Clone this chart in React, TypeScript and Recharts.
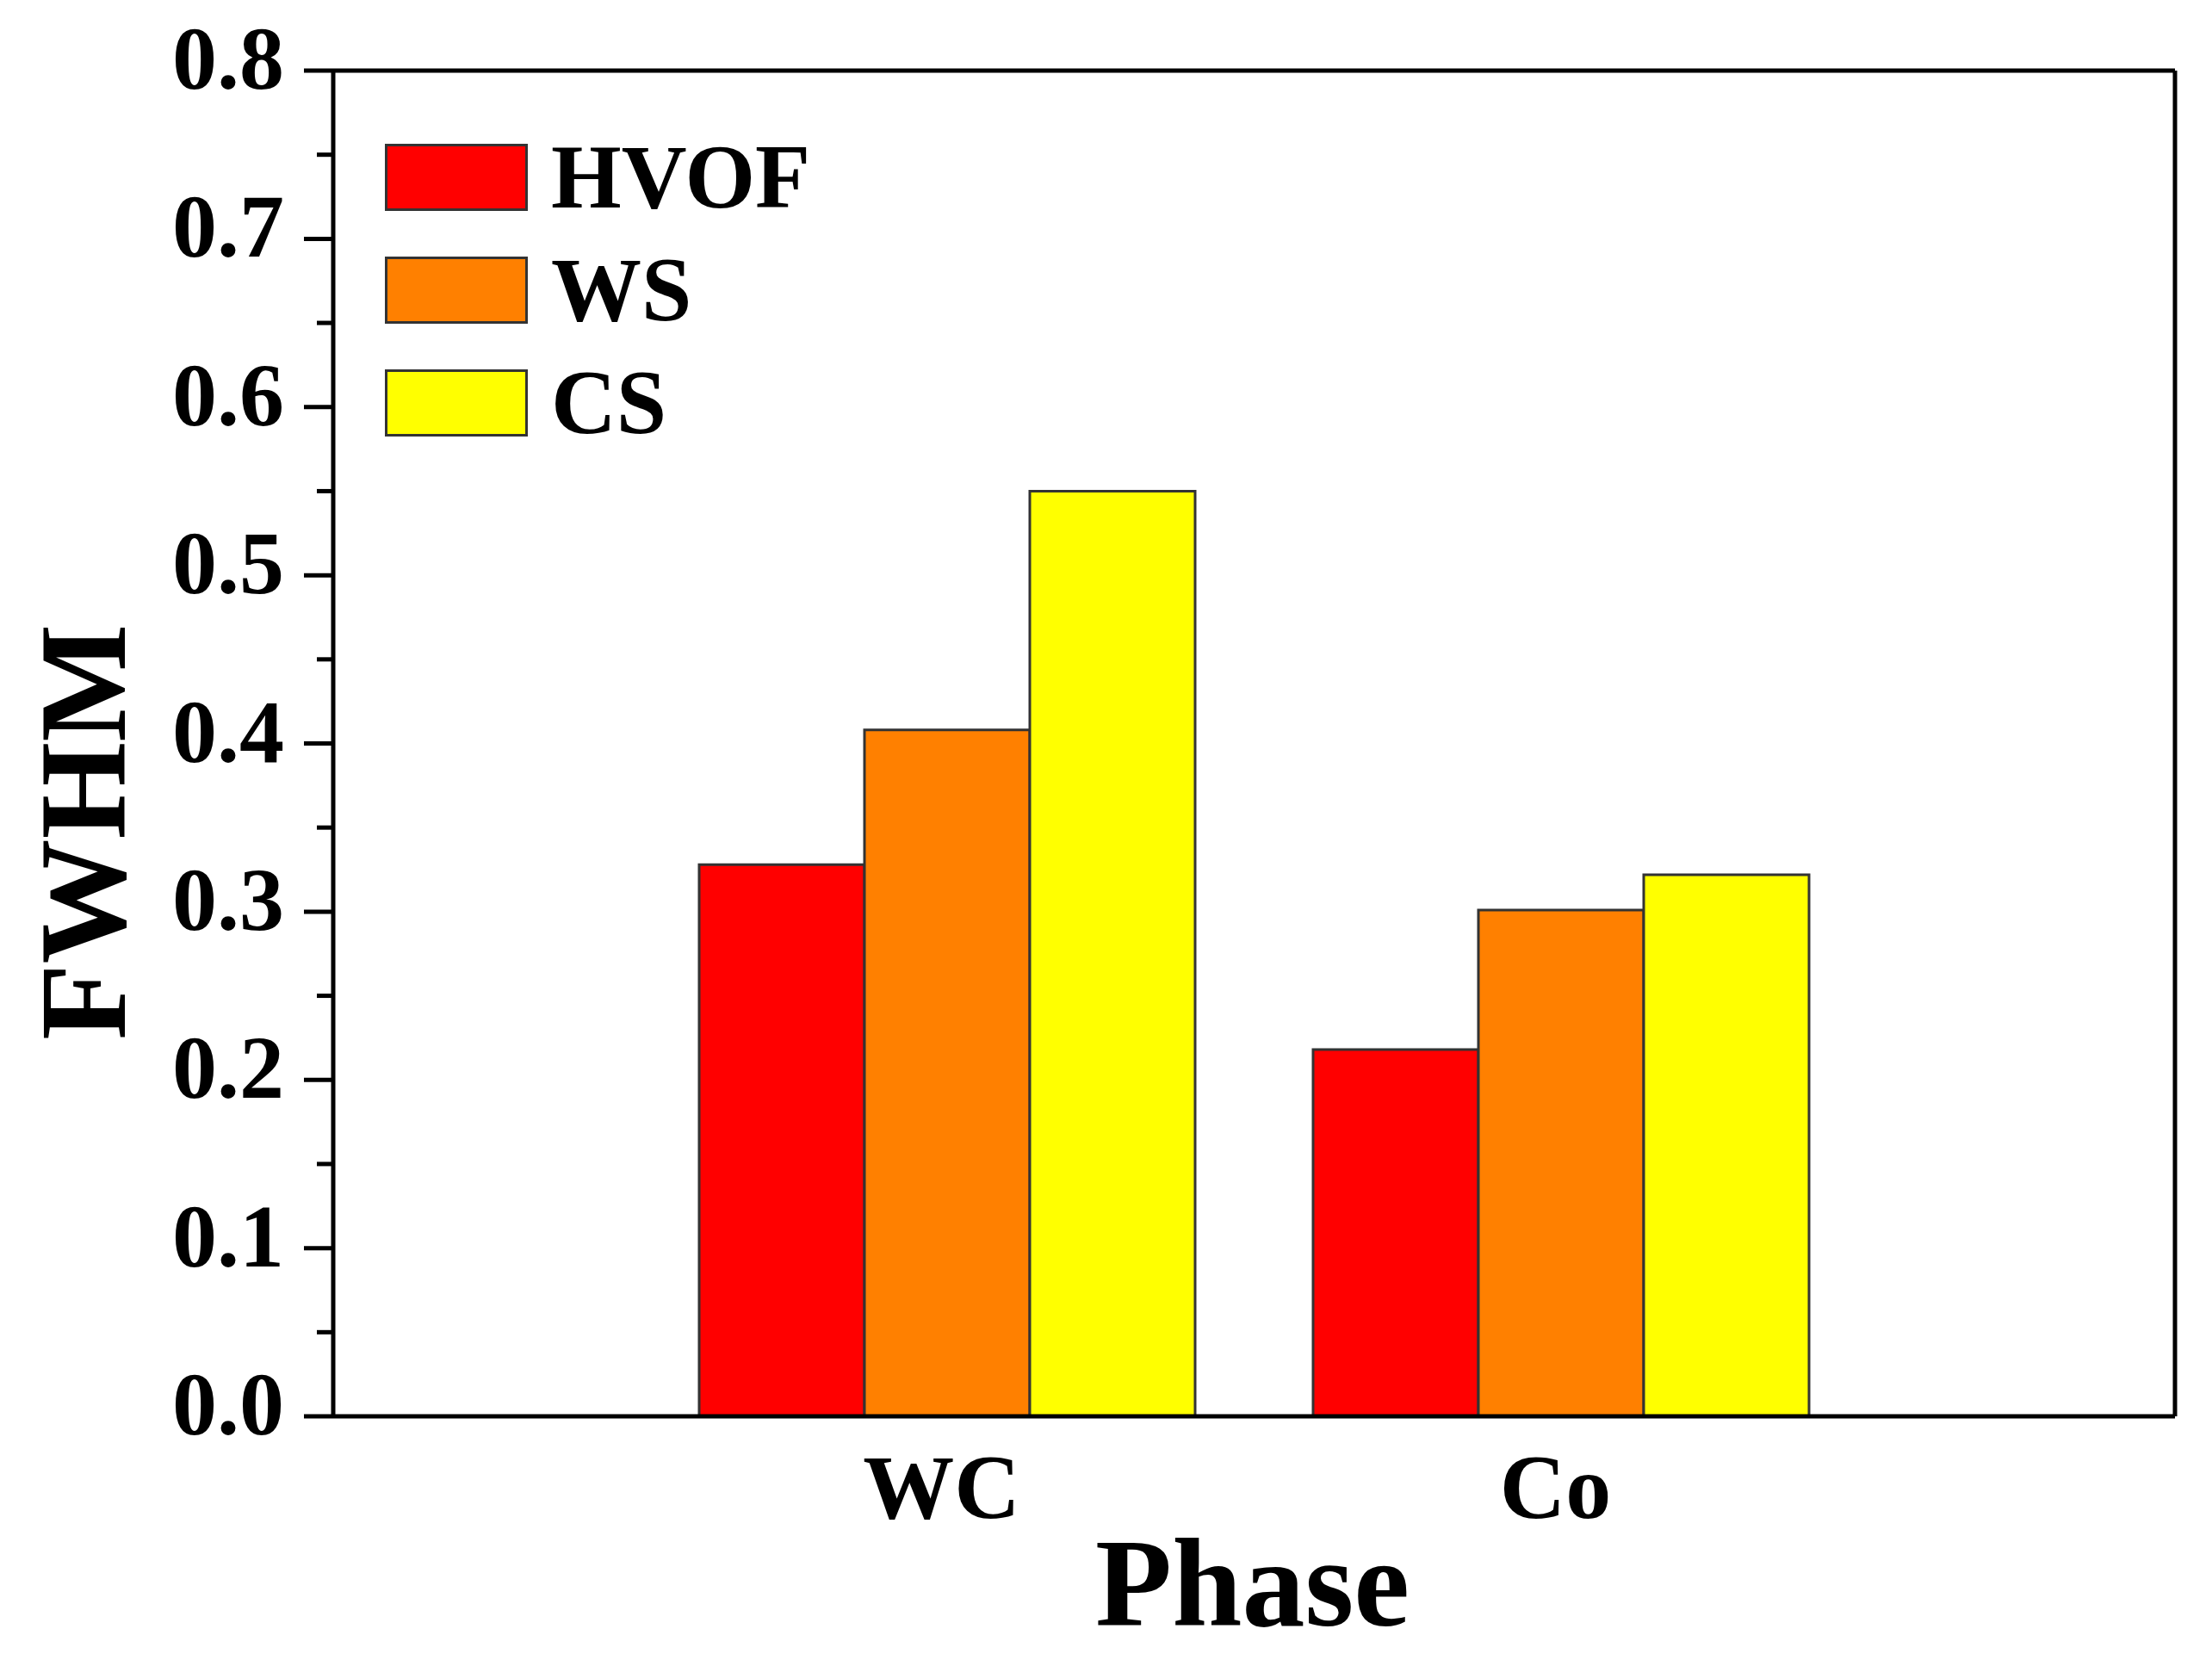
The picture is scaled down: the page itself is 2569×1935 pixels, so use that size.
import React from 'react';
import { BarChart, Bar, XAxis, YAxis, Legend } from 'recharts';

// FWHM of the WC and Co peaks for the three spray processes
const phases = ['WC', 'Co'];
const hvof = [0.328, 0.218];
const ws = [0.408, 0.301];
const cs = [0.55, 0.322];

const seriesNames = ['HVOF', 'WS', 'CS'];
const seriesColors = ['#ff0000', '#ff8000', '#ffff00'];

const yTicks = [0, 0.05, 0.1, 0.15, 0.2, 0.25, 0.3, 0.35, 0.4, 0.45, 0.5, 0.55, 0.6, 0.65, 0.7, 0.75, 0.8];

const chartData = phases.map((p, i) => ({
  phase: p,
  HVOF: hvof[i],
  WS: ws[i],
  CS: cs[i],
}));

const FONT = '"Liberation Serif", "Times New Roman", serif';

const YTick = (props: any) => {
  const { x, y, payload } = props;
  const major = Math.round(payload.value * 100) % 10 === 0;
  const len = major ? 34 : 19;
  return (
    <g>
      <line x1={x - len} x2={x} y1={y} y2={y} stroke="#000" strokeWidth={5} />
      {major && (
        <text
          x={x - 57}
          y={y + 21}
          textAnchor="end"
          fontFamily={FONT}
          fontWeight="bold"
          fontSize={104}
          fill="#000"
        >
          {payload.value.toFixed(1)}
        </text>
      )}
    </g>
  );
};

const XTick = (props: any) => {
  const { x, y, payload } = props;
  return (
    <text
      x={x - 6}
      y={y + 118}
      textAnchor="middle"
      fontFamily={FONT}
      fontWeight="bold"
      fontSize={106}
      fill="#000"
    >
      {payload.value}
    </text>
  );
};

const renderLegend = (props: any) => {
  const items = [...props.payload].sort(
    (a: any, b: any) => seriesNames.indexOf(a.value) - seriesNames.indexOf(b.value)
  );
  return (
    <div>
      {items.map((entry: any, i: number) => (
        <div
          key={entry.value}
          style={{
            display: 'flex',
            alignItems: 'center',
            height: 77,
            marginBottom: i < items.length - 1 ? 54 : 0,
          }}
        >
          <div
            style={{
              width: 160,
              height: 72,
              background: entry.color,
              border: '3px solid #333',
            }}
          />
          <span
            style={{
              marginLeft: 27,
              fontFamily: FONT,
              fontWeight: 'bold',
              fontSize: 105,
              color: '#000',
              lineHeight: 1,
            }}
          >
            {entry.value}
          </span>
        </div>
      ))}
    </div>
  );
};

export default function App() {
  return (
    <div style={{ position: 'absolute', left: 0, top: 0, background: '#fff' }}>
      <BarChart
        width={2569}
        height={1935}
        data={chartData}
        margin={{ top: 81, right: 42, bottom: 0, left: 0 }}
        barCategoryGap={69}
        barGap={0}
      >
        <XAxis
          dataKey="phase"
          padding={{ left: 356, right: 357 }}
          height={290}
          axisLine={{ stroke: '#000', strokeWidth: 5 }}
          tickLine={false}
          tickSize={0}
          tickMargin={0}
          tick={<XTick />}
          label={(p: any) => {
            const vb = p.viewBox;
            return (
              <text
                x={vb.x + vb.width / 2 - 2}
                y={vb.y + 243}
                textAnchor="middle"
                fontFamily={FONT}
                fontWeight="bold"
                fontSize={146}
                fill="#000"
              >
                Phase
              </text>
            );
          }}
        />
        <XAxis
          xAxisId="top"
          dataKey="phase"
          orientation="top"
          height={1}
          padding={{ left: 356, right: 357 }}
          axisLine={{ stroke: '#000', strokeWidth: 5 }}
          tickLine={false}
          tick={false}
        />
        <YAxis
          width={387}
          domain={[0, 0.8]}
          ticks={yTicks}
          interval={0}
          axisLine={{ stroke: '#000', strokeWidth: 5 }}
          tickLine={false}
          tickSize={0}
          tickMargin={0}
          tick={<YTick />}
          label={(p: any) => {
            const vb = p.viewBox;
            const cx = vb.x + 145;
            const cy = vb.y + vb.height / 2 + 103;
            return (
              <text
                x={cx}
                y={cy}
                transform={`rotate(-90, ${cx}, ${cy})`}
                textAnchor="middle"
                fontFamily={FONT}
                fontWeight="bold"
                fontSize={145}
                fill="#000"
              >
                FWHM
              </text>
            );
          }}
        />
        <YAxis
          yAxisId="right"
          orientation="right"
          width={1}
          domain={[0, 0.8]}
          axisLine={{ stroke: '#000', strokeWidth: 5 }}
          tickLine={false}
          tick={false}
        />
        <Legend
          layout="vertical"
          align="center"
          verticalAlign="middle"
          content={renderLegend}
          wrapperStyle={{ left: 447, top: 167, width: 'auto', height: 'auto' }}
        />
        {seriesNames.map((name, i) => (
          <Bar
            key={name}
            dataKey={name}
            name={name}
            fill={seriesColors[i]}
            stroke="#333"
            strokeWidth={3}
            isAnimationActive={false}
          />
        ))}
      </BarChart>
    </div>
  );
}
